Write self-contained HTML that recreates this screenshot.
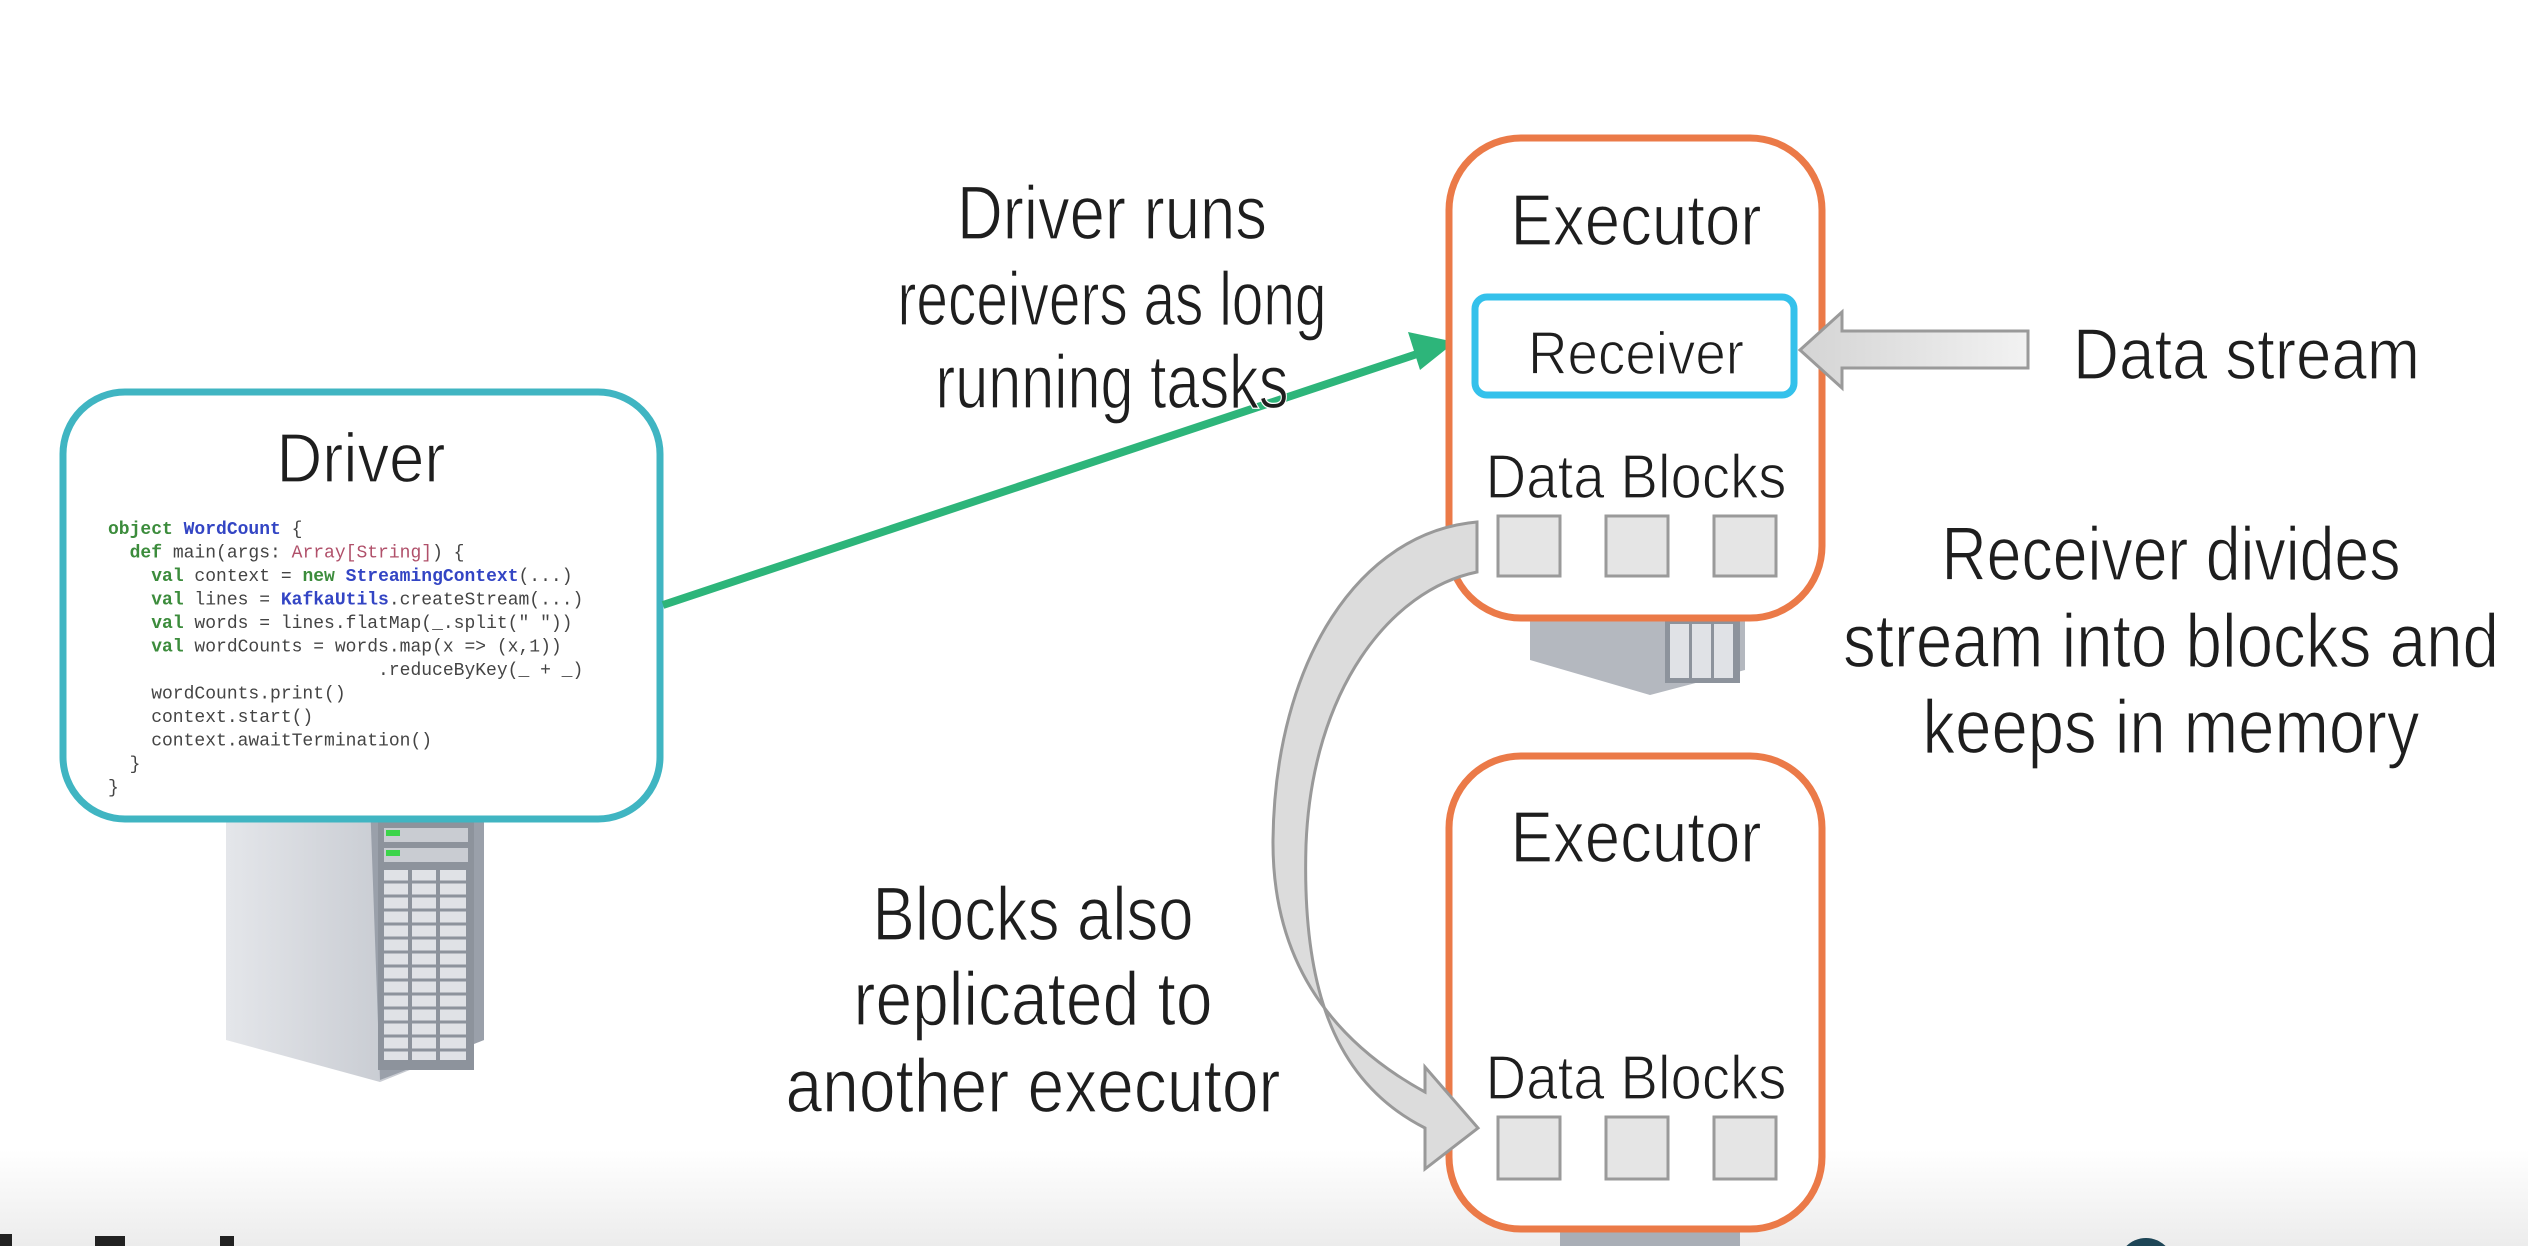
<!DOCTYPE html>
<html><head><meta charset="utf-8"><style>
html,body{margin:0;padding:0;background:#fff;}
svg{display:block}
.t{font-family:"Liberation Sans",sans-serif;fill:#1e1e1e;font-weight:normal;stroke:#fff;stroke-width:1.3px}
.c{font-family:"Liberation Mono",monospace;font-size:18px;fill:#444;white-space:pre}
.k{fill:#3c8c3c;font-weight:bold}
.b{fill:#3345c4;font-weight:bold}
.p{fill:#b0506a}
</style></head><body>
<svg width="2528" height="1246" viewBox="0 0 2528 1246" xmlns="http://www.w3.org/2000/svg">
<defs>
<linearGradient id="bot" x1="0" y1="0" x2="0" y2="1"><stop offset="0" stop-color="#fff"/><stop offset="1" stop-color="#ececec"/></linearGradient>
<linearGradient id="ga" x1="0" y1="0" x2="1" y2="0"><stop offset="0" stop-color="#d4d4d4"/><stop offset="1" stop-color="#f2f2f2"/></linearGradient>
<linearGradient id="srv" x1="0" y1="0" x2="1" y2="0"><stop offset="0" stop-color="#e4e6ea"/><stop offset="1" stop-color="#b8bcc4"/></linearGradient>
</defs>
<rect x="0" y="1150" width="2528" height="96" fill="url(#bot)"/>
<rect x="0" y="1234" width="12" height="12" fill="#222"/>
<rect x="95" y="1236" width="30" height="10" fill="#222"/>
<rect x="220" y="1236" width="14" height="10" fill="#222"/>
<circle cx="2146" cy="1266" r="28" fill="#1d4556"/>

<!-- driver server -->
<g>
<polygon points="226,810 370,790 484,812 484,1040 380,1082 226,1040" fill="url(#srv)"/>
<polygon points="370,800 484,812 484,1040 380,1080" fill="#9aa0aa"/>
<rect x="378" y="820" width="96" height="250" fill="#8d939c"/>
<rect x="384" y="828" width="84" height="14" fill="#c9ccd2"/>
<rect x="384" y="848" width="84" height="14" fill="#c9ccd2"/>
<rect x="386" y="830" width="14" height="6" fill="#3bd44a"/>
<rect x="386" y="850" width="14" height="6" fill="#3bd44a"/>
<g fill="#e0e2e6">
<rect x="384" y="870" width="24" height="190"/><rect x="412" y="870" width="24" height="190"/><rect x="440" y="870" width="26" height="190"/>
</g>
<g stroke="#8d939c" stroke-width="3">
<line x1="384" y1="882" x2="466" y2="882"/><line x1="384" y1="896" x2="466" y2="896"/><line x1="384" y1="910" x2="466" y2="910"/><line x1="384" y1="924" x2="466" y2="924"/><line x1="384" y1="938" x2="466" y2="938"/><line x1="384" y1="952" x2="466" y2="952"/><line x1="384" y1="966" x2="466" y2="966"/><line x1="384" y1="980" x2="466" y2="980"/><line x1="384" y1="994" x2="466" y2="994"/><line x1="384" y1="1008" x2="466" y2="1008"/><line x1="384" y1="1022" x2="466" y2="1022"/><line x1="384" y1="1036" x2="466" y2="1036"/><line x1="384" y1="1050" x2="466" y2="1050"/>
</g>
</g>

<!-- exec1 server peek -->
<polygon points="1530,621 1745,621 1745,670 1650,695 1530,660" fill="#b4b8bf"/>
<rect x="1665" y="621" width="75" height="62" fill="#8d939c"/>
<g fill="#e0e2e6"><rect x="1670" y="624" width="19" height="54"/><rect x="1692" y="624" width="19" height="54"/><rect x="1714" y="624" width="19" height="54"/></g>
<polygon points="1560,1232 1740,1232 1740,1246 1560,1246" fill="#a9aeb6"/>

<!-- driver box -->
<rect x="63" y="392" width="597" height="427" rx="62" fill="#fff" stroke="#40b5c2" stroke-width="7"/>
<text class="t" x="361" y="482" font-size="70" text-anchor="middle" textLength="169" lengthAdjust="spacingAndGlyphs">Driver</text>
<text class="c" x="108" y="534"><tspan class="k">object</tspan> <tspan class="b">WordCount</tspan> {</text>
<text class="c" x="108" y="557.5">  <tspan class="k">def</tspan> main(args: <tspan class="p">Array[String]</tspan>) {</text>
<text class="c" x="108" y="581">    <tspan class="k">val</tspan> context = <tspan class="k">new</tspan> <tspan class="b">StreamingContext</tspan>(...)</text>
<text class="c" x="108" y="604.5">    <tspan class="k">val</tspan> lines = <tspan class="b">KafkaUtils</tspan>.createStream(...)</text>
<text class="c" x="108" y="628">    <tspan class="k">val</tspan> words = lines.flatMap(_.split(" "))</text>
<text class="c" x="108" y="651.5">    <tspan class="k">val</tspan> wordCounts = words.map(x =&gt; (x,1))</text>
<text class="c" x="108" y="675">                         .reduceByKey(_ + _)</text>
<text class="c" x="108" y="698.5">    wordCounts.print()</text>
<text class="c" x="108" y="722">    context.start()</text>
<text class="c" x="108" y="745.5">    context.awaitTermination()</text>
<text class="c" x="108" y="769">  }</text>
<text class="c" x="108" y="792.5">}</text>

<!-- green arrow -->
<line x1="663" y1="605" x2="1420" y2="353" stroke="#2db57a" stroke-width="8"/>
<polygon points="1455,342 1408,332 1420,370" fill="#2db57a"/>

<!-- executors -->
<rect x="1449" y="138" width="373" height="480" rx="72" fill="#fff" stroke="#eb7a48" stroke-width="7"/>
<rect x="1449" y="756" width="373" height="473" rx="72" fill="#fff" stroke="#eb7a48" stroke-width="7"/>
<text class="t" x="1636" y="245" font-size="72" text-anchor="middle" textLength="251" lengthAdjust="spacingAndGlyphs">Executor</text>
<rect x="1475" y="297" width="319" height="98" rx="12" fill="#fff" stroke="#34c1eb" stroke-width="7"/>
<text class="t" x="1636" y="374" font-size="60" text-anchor="middle" textLength="216" lengthAdjust="spacingAndGlyphs">Receiver</text>
<text class="t" x="1636" y="498" font-size="62" text-anchor="middle" textLength="301" lengthAdjust="spacingAndGlyphs">Data Blocks</text>
<g fill="#e5e5e5" stroke="#9a9a9a" stroke-width="3">
<rect x="1498" y="516" width="62" height="60"/><rect x="1606" y="516" width="62" height="60"/><rect x="1714" y="516" width="62" height="60"/>
<rect x="1498" y="1117" width="62" height="62"/><rect x="1606" y="1117" width="62" height="62"/><rect x="1714" y="1117" width="62" height="62"/>
</g>
<text class="t" x="1636" y="862" font-size="72" text-anchor="middle" textLength="251" lengthAdjust="spacingAndGlyphs">Executor</text>
<text class="t" x="1636" y="1099" font-size="62" text-anchor="middle" textLength="301" lengthAdjust="spacingAndGlyphs">Data Blocks</text>

<!-- data stream arrow -->
<polygon points="1800,350 1842,312 1842,331 2028,331 2028,368 1842,368 1842,388" fill="url(#ga)" stroke="#9a9a9a" stroke-width="3"/>
<text class="t" x="2073" y="379" font-size="72" textLength="347" lengthAdjust="spacingAndGlyphs">Data stream</text>

<!-- curved arrow -->
<path d="M1477,522 C1360,532 1275,660 1273,840 C1272,960 1330,1040 1425,1092 L1425,1067 L1478,1128 L1425,1169 L1425,1128 C1330,1080 1302,980 1306,845 C1312,690 1390,590 1477,572 Z" fill="#dcdcdc" stroke="#999" stroke-width="3"/>

<!-- labels -->
<g class="t" font-size="76" text-anchor="middle">
<text x="1112" y="239" textLength="310" lengthAdjust="spacingAndGlyphs">Driver runs</text>
<text x="1112" y="325" textLength="429" lengthAdjust="spacingAndGlyphs">receivers as long</text>
<text x="1112" y="408" textLength="353" lengthAdjust="spacingAndGlyphs">running tasks</text>
<text x="2171" y="580" textLength="459" lengthAdjust="spacingAndGlyphs">Receiver divides</text>
<text x="2171" y="667" textLength="656" lengthAdjust="spacingAndGlyphs">stream into blocks and</text>
<text x="2171" y="753" textLength="497" lengthAdjust="spacingAndGlyphs">keeps in memory</text>
<text x="1033" y="940" textLength="321" lengthAdjust="spacingAndGlyphs">Blocks also</text>
<text x="1033" y="1025" textLength="359" lengthAdjust="spacingAndGlyphs">replicated to</text>
<text x="1033" y="1112" textLength="495" lengthAdjust="spacingAndGlyphs">another executor</text>
</g>
</svg>
</body></html>
